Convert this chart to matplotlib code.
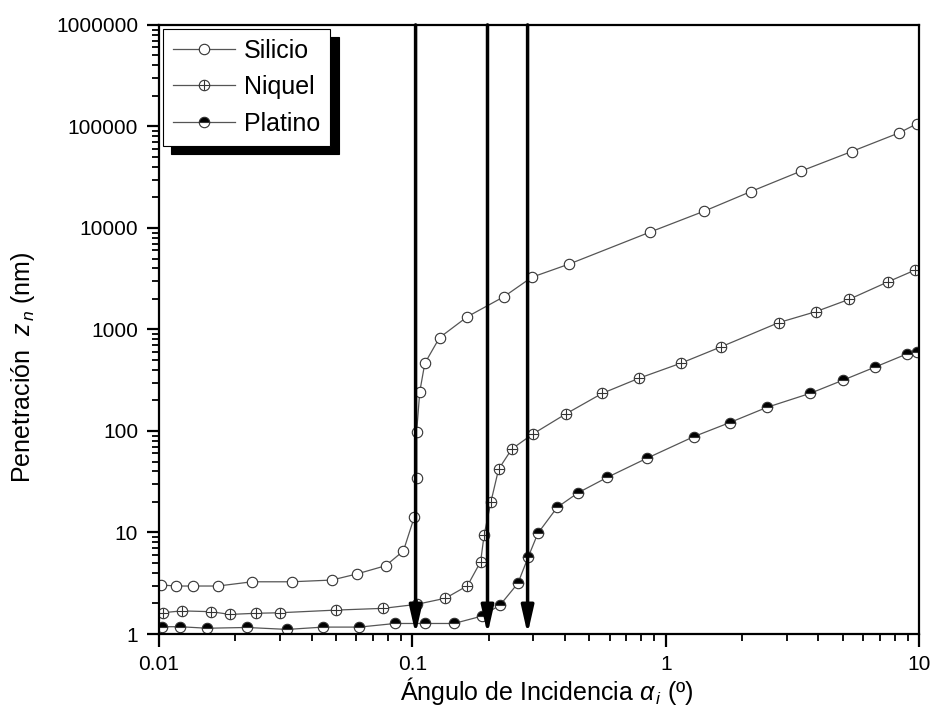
import numpy as np
import matplotlib
matplotlib.use("Agg")
import matplotlib.pyplot as plt
from matplotlib.ticker import LogLocator, FuncFormatter, NullFormatter
from matplotlib.legend_handler import HandlerTuple

plt.rcParams['font.family'] = ['Liberation Sans', 'DejaVu Sans']
plt.rcParams['mathtext.fontset'] = 'custom'
plt.rcParams['mathtext.it'] = 'Liberation Sans:italic'
plt.rcParams['mathtext.rm'] = 'Liberation Sans'

# penetration depth vs incidence angle
si_x = [0.0102, 0.0117, 0.0136, 0.0171, 0.0233, 0.0334, 0.0481, 0.0603, 0.0785,
        0.0922, 0.1019, 0.104, 0.104, 0.107, 0.112, 0.128, 0.165, 0.230, 0.296,
        0.417, 0.869, 1.42, 2.17, 3.41, 5.41, 8.31, 9.79]
si_y = [3.04, 2.97, 2.97, 2.97, 3.27, 3.27, 3.40, 3.90, 4.71,
        6.58, 14.3, 34.2, 98.5, 244, 464, 830, 1337, 2104, 3266,
        4420, 9120, 14650, 22850, 36200, 56500, 86100, 105900]

ni_x = [0.01034, 0.0123, 0.0160, 0.0191, 0.0241, 0.0300, 0.0498, 0.0768, 0.104,
        0.135, 0.165, 0.186, 0.192, 0.204, 0.219, 0.247, 0.299, 0.403, 0.562,
        0.785, 1.147, 1.66, 2.79, 3.91, 5.30, 7.57, 9.66]
ni_y = [1.62, 1.69, 1.66, 1.56, 1.60, 1.62, 1.72, 1.79, 1.96,
        2.25, 2.99, 5.16, 9.45, 19.8, 42.0, 66.5, 93.4, 147, 235,
        331, 465, 677, 1167, 1497, 1983, 2960, 3855]

pt_x = [0.01025, 0.0121, 0.0155, 0.0222, 0.0321, 0.0445, 0.0618, 0.0855, 0.112,
        0.146, 0.188, 0.222, 0.261, 0.287, 0.313, 0.373, 0.452, 0.589, 0.842,
        1.29, 1.79, 2.51, 3.72, 5.03, 6.67, 8.95, 9.8]
pt_y = [1.18, 1.18, 1.14, 1.16, 1.11, 1.17, 1.17, 1.27, 1.27,
        1.27, 1.50, 1.93, 3.16, 5.78, 9.82, 17.7, 24.7, 35.0, 53.8,
        87.9, 121, 171, 235, 318, 424, 574, 604]

# critical angles marked with arrows
crit_angles = [0.103, 0.198, 0.285]

fig = plt.figure(figsize=(9.35, 7.26), dpi=100)
ax = fig.add_axes([0.170, 0.1267, 0.813, 0.839])

line_c = '#555555'
l_si, = ax.plot(si_x, si_y, '-', color=line_c, lw=0.9, marker='o', ms=7.5,
                mfc='white', mec='#333333', mew=0.8)
l_ni, = ax.plot(ni_x, ni_y, '-', color=line_c, lw=0.9, marker='o', ms=7.5,
                mfc='white', mec='#333333', mew=0.8)
l_ni2, = ax.plot(ni_x, ni_y, ls='none', marker='+', ms=7.5, mec='#333333', mew=0.8)
l_pt, = ax.plot(pt_x, pt_y, '-', color=line_c, lw=0.9, marker='o', ms=7.5,
                fillstyle='top', mfc='black', mfcalt='white', mec='#333333', mew=0.8)

for a in crit_angles:
    ax.annotate('', xy=(a, 1), xytext=(a, 1e6),
                arrowprops=dict(arrowstyle='-|>,head_length=1.1,head_width=0.25',
                                mutation_scale=15, lw=2.5, color='black',
                                shrinkA=0, shrinkB=0), zorder=5)

ax.set_xscale('log')
ax.set_yscale('log')
ax.set_xlim(0.01, 10)
ax.set_ylim(1, 1e6)

ax.xaxis.set_major_locator(LogLocator(base=10))
ax.xaxis.set_minor_locator(LogLocator(base=10, subs=np.arange(2, 10)))
ax.yaxis.set_major_locator(LogLocator(base=10, numticks=10))
ax.yaxis.set_minor_locator(LogLocator(base=10, subs=np.arange(2, 10), numticks=10))
ax.xaxis.set_major_formatter(FuncFormatter(lambda v, p: f'{v:g}'))
ax.yaxis.set_major_formatter(FuncFormatter(lambda v, p: f'{int(round(v))}'))
ax.xaxis.set_minor_formatter(NullFormatter())
ax.yaxis.set_minor_formatter(NullFormatter())

ax.tick_params(which='major', direction='out', length=9, width=1.6, labelsize=15, pad=6)
ax.tick_params(which='minor', direction='out', length=5, width=1.3)
for s in ax.spines.values():
    s.set_linewidth(1.6)

ax.set_xlabel(r'Ángulo de Incidencia $\alpha_{\,i}$ (º)', fontsize=18)
ax.set_ylabel(r'Penetración  $z_{\,n}$ (nm)', fontsize=18)
ax.xaxis.set_label_coords(0.51, -0.068)
ax.yaxis.set_label_coords(-0.160, 0.438)

leg = ax.legend([l_si, (l_ni, l_ni2), l_pt], ['Silicio', 'Niquel', 'Platino'],
                handler_map={tuple: HandlerTuple(ndivide=1)},
                loc='upper left', bbox_to_anchor=(0, 1), borderaxespad=0.15,
                fontsize=18, handlelength=2.5, handletextpad=0.35, labelspacing=0.5,
                borderpad=0.4, fancybox=False, edgecolor='black', framealpha=1,
                shadow={'ox': 6, 'oy': -6, 'facecolor': 'black',
                        'edgecolor': 'black', 'alpha': 1})
leg.get_frame().set_linewidth(0.8)

fig.savefig('out.png', dpi=100)
